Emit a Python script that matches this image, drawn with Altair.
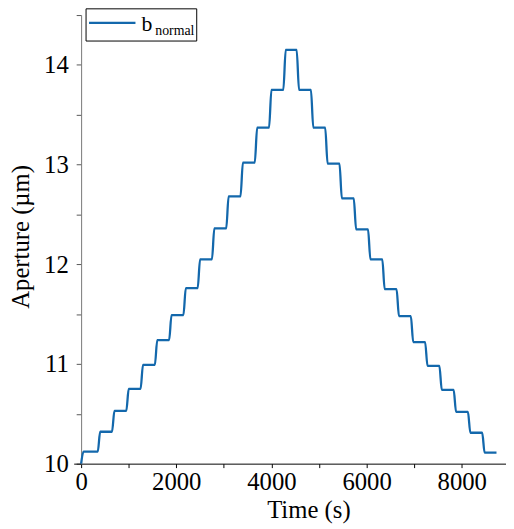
import altair as alt
import pandas as pd

# ---- data ----
start_level = 10.0
switch_times = [0, 350, 650, 950, 1250, 1550, 1850, 2150, 2450, 2750, 3050, 3350, 3650, 3950, 4250,
                4530, 4830, 5130, 5430, 5730, 6030, 6330, 6630, 6930, 7230, 7530, 7830, 8130, 8430]
levels = [10.12, 10.32, 10.53, 10.75, 10.99, 11.24, 11.49, 11.76, 12.05, 12.36, 12.68, 13.02, 13.37, 13.75, 14.15,
          13.75, 13.37, 13.01, 12.66, 12.35, 12.05, 11.75, 11.48, 11.22, 10.98, 10.74, 10.52, 10.31, 10.11]
end_time = 8730
ramp = 50  # duration of each step change (s)

x_ticks = [0, 1000, 2000, 3000, 4000, 5000, 6000, 7000, 8000]
y_ticks = [10, 10.5, 11, 11.5, 12, 12.5, 13, 13.5, 14, 14.5]

# ---- build the step table ----
ts, vs = [], []
prev = start_level
for t, lv in zip(switch_times, levels):
    ts.append(t); vs.append(prev)
    ts.append(t + ramp); vs.append(lv)
    prev = lv
ts.append(end_time); vs.append(prev)
df = pd.DataFrame({"t": ts, "b": vs})

BLUE = "#1368ac"
FONT = "Liberation Serif"

line = alt.Chart(df).mark_line(color=BLUE, strokeWidth=2.3, interpolate="monotone").encode(
    x=alt.X("t:Q",
            scale=alt.Scale(domain=[0, 8930], nice=False, zero=False),
            axis=alt.Axis(title="Time (s)", values=x_ticks,
                          labelExpr="datum.value % 2000 === 0 ? datum.label : ''",
                          format="d", grid=False, tickSize=4, labelPadding=2,
                          labelFlush=False, labelOverlap=False,
                          domainColor="black", tickColor="black",
                          labelFont=FONT, labelFontSize=25, labelColor="black",
                          titleFont=FONT, titleFontSize=25, titleFontWeight="normal",
                          titleColor="black", titleX=230, titleY=55,
                          titleBaseline="alphabetic")),
    y=alt.Y("b:Q",
            scale=alt.Scale(domain=[10, 14.5], nice=False, zero=False),
            axis=alt.Axis(title="Aperture (µm)", values=y_ticks, format=".0f",
                          labelExpr="datum.value % 1 === 0 ? datum.label : ''",
                          grid=False, tickSize=5, labelPadding=8,
                          labelFlush=False, labelOverlap=False, labelAlign="right",
                          domainColor="#777777", tickColor="#555555",
                          labelFont=FONT, labelFontSize=25, labelColor="black",
                          titleFont=FONT, titleFontSize=25, titleFontWeight="normal",
                          titleColor="black", titleX=-53, titleY=224,
                          titleBaseline="alphabetic")),
)

one = pd.DataFrame({"k": [0]})
# short extension of the bottom axis line to the left of the y axis
axis_ext = alt.Chart(one).mark_rule(color="black", strokeWidth=1).encode(
    x=alt.value(-7), x2=alt.value(0), y=alt.value(454.5))
legend_box = alt.Chart(one).mark_rect(fill="white", stroke="black", strokeWidth=1).encode(
    x=alt.value(5), x2=alt.value(117), y=alt.value(-6.3), y2=alt.value(26.3))
legend_line = alt.Chart(one).mark_rule(color=BLUE, strokeWidth=2.3).encode(
    x=alt.value(8), x2=alt.value(55), y=alt.value(8))
legend_b = alt.Chart(one).mark_text(align="left", baseline="alphabetic", font=FONT,
                                    fontSize=22, color="black").encode(
    x=alt.value(61), y=alt.value(16), text=alt.value("b"))
legend_sub = alt.Chart(one).mark_text(align="left", baseline="alphabetic", font=FONT,
                                      fontSize=14, color="black").encode(
    x=alt.value(75), y=alt.value(20.5), text=alt.value("normal"))

chart = alt.layer(line, axis_ext, legend_box, legend_line, legend_b, legend_sub).properties(
    width=430, height=454, autosize="none",
    padding={"left": 74, "top": 4, "right": 0, "bottom": 63},
).configure_view(stroke=None)

chart.save("out.html", embed_options={"renderer": "svg", "actions": False})
